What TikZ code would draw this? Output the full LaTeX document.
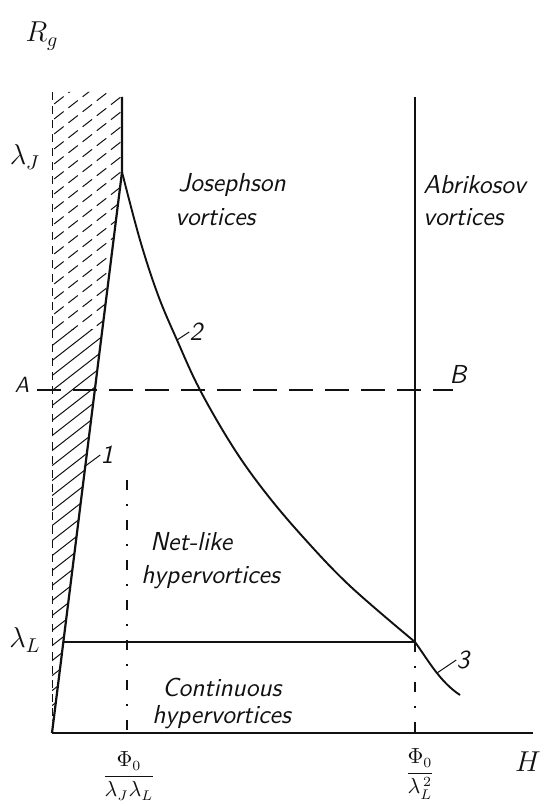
\documentclass[tikz,border=0pt]{standalone}
\usepackage{amsmath, amssymb}
\usepackage{tikz}
\usetikzlibrary{arrows.meta, positioning, calc}
\definecolor{InkBlack}{HTML}{111111}

\begin{document}
\begin{tikzpicture}[
        x=0.5pt, y=-0.5pt, InkBlack,
        font=\sffamily\slshape\fontsize{13}{15}\selectfont,
        axis/.style={line width=1.2pt},
        bound/.style={line width=1.1pt},
        curve/.style={line width=0.95pt},
        guide/.style={line width=0.7pt, dash pattern=on 12pt off 6pt},
        dashdot/.style={line width=0.6pt, dash pattern=on 5pt off 7pt on 1pt off 7pt},
        hatch/.style={line width=0.5pt},
        leader/.style={line width=0.5pt},
        region/.style={anchor=west, inner sep=0pt},
        tag/.style={inner sep=0pt, font=\sffamily\slshape\fontsize{13}{15}\selectfont},
        mlabel/.style={inner sep=0pt, font=\fontsize{14}{16}\selectfont},
        flabel/.style={inner sep=0pt, font=\fontsize{10.5}{12}\selectfont},
      ]
        \useasboundingbox (0,0) rectangle (551,806);
        \coordinate (O)    at (52,733);
        \coordinate (peak) at (122,172);
        \coordinate (topJ) at (122,97);
        \coordinate (topA) at (415,97);
        \coordinate (tri)  at (415,642);
        \coordinate (xL)   at (63,642);
        \coordinate (Hend) at (533,733);
        \coordinate (Aend) at (37,390);
        \coordinate (Bend) at (453,390);

        \begin{scope}
          \clip (52,92) -- (122,92) -- (peak) -- (O) -- cycle;
          \clip (0,0) rectangle (200,330);
          \foreach \c in {100,115,...,800}
            \draw[hatch, dash pattern=on 6pt off 3pt] (40,\c) -- ++(100,-78);
        \end{scope}
        \begin{scope}
          \clip (52,92) -- (122,92) -- (peak) -- (O) -- cycle;
          \clip (0,330) rectangle (200,806);
          \foreach \c in {100,115,...,800}
            \draw[hatch] (40,\c) -- ++(100,-78);
        \end{scope}

        \draw[hatch, dash pattern=on 4pt off 3pt] (52,92) -- (O);
        \draw[axis] (O) -- (Hend);
        \draw[bound] (O) -- (peak) -- (topJ);
        \draw[bound] (topA) -- (tri);
        \draw[bound] (xL) -- (tri);
        \draw[curve] plot[smooth, tension=0.6] coordinates {(122,172) (140,240) (158,295) (177,340)
          (200,390) (233,447) (265,492) (303,537) (350,586) (415,642)};
        \draw[curve] (tri) .. controls (428,660) and (440,682) .. (460,695);
        \draw[guide] (Aend) -- (Bend);
        \draw[dashdot] (tri) -- (415,733);
        \draw[dashdot] (127,480) -- (127,733);

        \node[mlabel] (Rg)  at (42,36)  {$R_g$};
        \node[mlabel] (lJ)  at (25,157) {$\lambda_J$};
        \node[mlabel] (lL)  at (25,640) {$\lambda_L$};
        \node[tag, font=\sffamily\slshape\fontsize{11}{13}\selectfont] (A) at (22,385) {A};
        \node[tag] (B) at (458,374) {B};
        \node[mlabel] (H)   at (528,762) {$H$};
        \node[flabel] (fJ) at (129,776) {$\dfrac{\Phi_0}{\lambda_J\lambda_L}$};
        \node[flabel] (fL) at (420,774) {$\dfrac{\Phi_0}{\lambda_L^{\,2}}$};

        \node[tag] (n1) at (107,455) {1};
        \node[tag] (n2) at (196,332) {2};
        \node[tag] (n3) at (463,660) {3};
        \coordinate (p1) at (84,467);
        \coordinate (p2) at (177,340);
        \coordinate (p3) at (437,673);
        \draw[leader] (p1) -- (n1.west);
        \draw[leader] (p2) -- (n2.west);
        \draw[leader] (p3) -- (n3.west);

        \node[region] (jos)  at (178,185) {Josephson};
        \node[region] (josv) at (175,217) {vortices};
        \node[region] (abr)  at (423,185) {Abrikosov};
        \node[region] (abrv) at (423,217) {vortices};
        \node[region] (net)  at (150,542) {Net-like};
        \node[region] (netv) at (141,577) {hypervortices};
        \node[region] (con)  at (162,687) {Continuous};
        \node[region] (conv) at (152,717) {hypervortices};
      \end{tikzpicture}
\end{document}
